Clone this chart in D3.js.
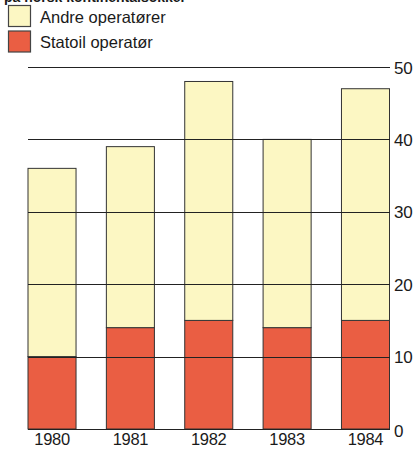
<!DOCTYPE html>
<html><head><meta charset="utf-8">
<script src="https://cdn.jsdelivr.net/npm/d3@7"></script>
<style>body{margin:0;background:#fff}svg{display:block}text{font-family:"Liberation Sans",Arial,sans-serif;fill:#1a1a1a}</style>
</head><body>
<script>
const years = ["1980","1981","1982","1983","1984"];
const statoil = [10,14,15,14,15];
const andre = [26,25,33,26,32];
const yTicks = [0,10,20,30,40,50];
const legendLabels = ["Andre operatører","Statoil operatør"];
const colors = ["#fcf7c3","#ea5e43"];

const W=414,H=449;
const svg=d3.select("body").append("svg").attr("width",W).attr("height",H);
const x=d3.scaleBand().domain(years).range([28,389.5]).paddingInner(0.387).paddingOuter(0);
const y=d3.scaleLinear().domain([0,50]).range([429,67]);

// clipped title line at the top (cut off in the reference too)
svg.append("text").attr("x",4).attr("y",2).attr("font-size",14).attr("font-weight","bold").text("på norsk kontinentalsokkel");

const data=years.map((yr,i)=>({yr,statoil:statoil[i],andre:andre[i]}));
const stack=d3.stack().keys(["statoil","andre"])(data);
svg.append("g").selectAll("g").data(stack).join("g")
 .attr("fill",(d,i)=>colors[1-i])
 .selectAll("rect").data(d=>d).join("rect")
 .attr("x",d=>x(d.data.yr)).attr("width",x.bandwidth())
 .attr("y",d=>y(d[1])).attr("height",d=>y(d[0])-y(d[1]))
 .attr("stroke","#333").attr("stroke-width",1);

// grid lines over bars
svg.append("g").selectAll("line").data(yTicks).join("line")
 .attr("x1",28).attr("x2",390).attr("y1",d=>Math.round(y(d))+0.5).attr("y2",d=>Math.round(y(d))+0.5)
 .attr("stroke","#222").attr("stroke-width",1.2);
svg.append("g").selectAll("text").data(yTicks).join("text")
 .attr("x",394).attr("y",d=>y(d)+6.5+(d===0?1.5:0)).attr("font-size",17).attr("letter-spacing",-0.3).text(d=>d);

svg.append("g").selectAll("text").data(years).join("text")
 .attr("x",d=>x(d)+x.bandwidth()/2).attr("y",445).attr("text-anchor","middle").attr("font-size",16.5).attr("letter-spacing",-0.3).text(d=>d);

// legend
const lg=svg.append("g");
legendLabels.forEach((l,i)=>{
 lg.append("rect").attr("x",8.5).attr("y",5.5+i*25.5).attr("width",22).attr("height",21).attr("fill",colors[i]).attr("stroke","#444").attr("stroke-width",1.2);
 lg.append("text").attr("x",40).attr("y",23+i*24.5).attr("font-size",16.5).text(l);
});
</script>
</body></html>
